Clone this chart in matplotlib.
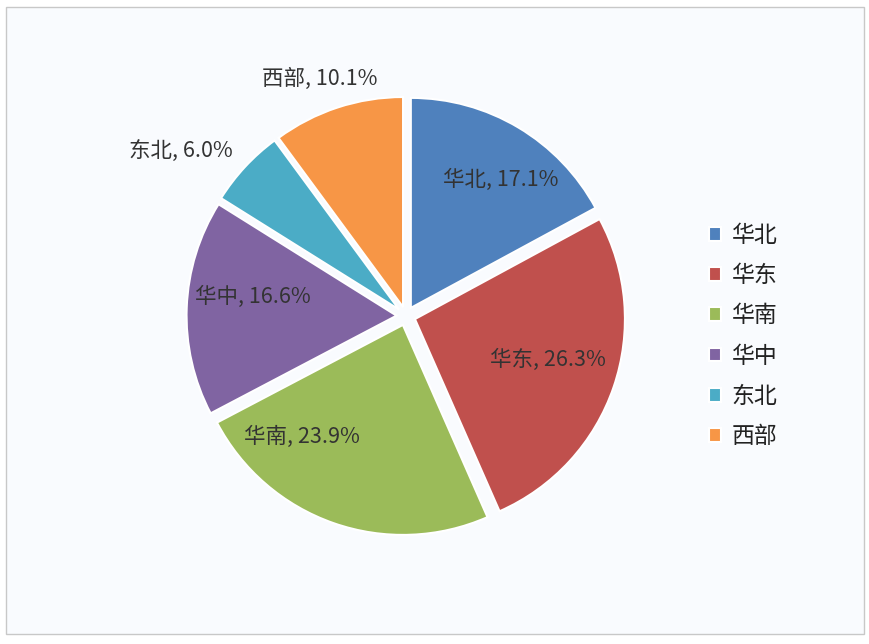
import matplotlib.pyplot as plt
import numpy as np
from matplotlib.patches import Rectangle

plt.rcParams['font.family'] = ['Noto Sans CJK SC', 'DejaVu Sans']

# 数据
regions = ['华北', '华东', '华南', '华中', '东北', '西部']
shares = [17.1, 26.3, 23.9, 16.6, 6.0, 10.1]
colors = ['#4F81BD', '#C0504D', '#9BBB59', '#8064A2', '#4BACC6', '#F79646']

# 标签位置 (半径, 角度偏移)
label_r = [0.79, 0.71, 0.76, 0.735, 1.33, 1.20]
label_da = [-4, 1.7, -21.5, -5, 6.6, 1.8]

fig = plt.figure(figsize=(8.7, 6.44), dpi=100)
fig.patch.set_facecolor('white')
fig.patches.append(Rectangle((6 / 870, 10 / 644), 858 / 870, 627 / 644,
                             transform=fig.transFigure, facecolor='#F9FBFE',
                             edgecolor='#C8C8C8', linewidth=1.0, zorder=-5))

ax = fig.add_axes([(406 - 230) / 870, (644 - 316 - 230) / 644, 460 / 870, 460 / 644])
ax.set_zorder(2)

wedges, _ = ax.pie(shares, colors=colors, startangle=90, counterclock=False,
                   explode=[0.045] * len(shares), radius=1.0,
                   wedgeprops=dict(edgecolor='white', linewidth=1.5))
lim = 230 / 210
ax.set_xlim(-lim, lim)
ax.set_ylim(-lim, lim)
ax.set_aspect('equal')
ax.axis('off')

for w, name, v, r, da in zip(wedges, regions, shares, label_r, label_da):
    ang = np.deg2rad((w.theta1 + w.theta2) / 2 + da)
    ax.text(r * np.cos(ang), r * np.sin(ang), f'{name}, {v:.1f}%',
            ha='center', va='center', fontsize=15.5, color='#333333')

leg = fig.legend(wedges, regions, loc='center left',
                 bbox_to_anchor=(688 / 870, 1 - 336 / 644), frameon=False,
                 fontsize=16.5, handlelength=0.55, handleheight=0.55,
                 handletextpad=0.45, labelspacing=0.75)
for t in leg.get_texts():
    t.set_color('#222222')

fig.savefig('out.png', dpi=100, facecolor='white')
